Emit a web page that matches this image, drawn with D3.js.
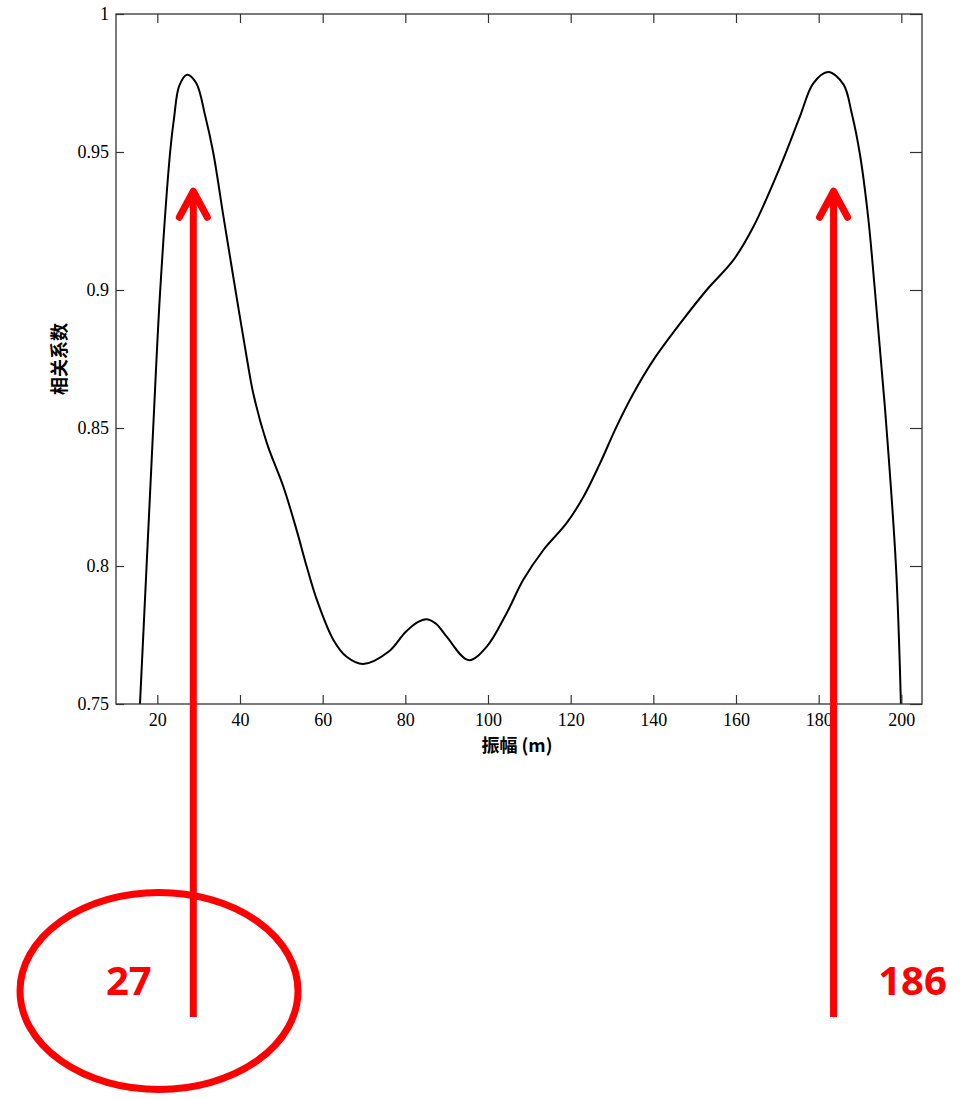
<!DOCTYPE html>
<html>
<head>
<meta charset="utf-8">
<script src="https://cdn.jsdelivr.net/npm/d3@7"></script>
<style>
  body { margin: 0; background: #fff; }
  svg { display: block; }
</style>
</head>
<body>
<svg id="chart" width="962" height="1099"></svg>
<script>
// amplitude (m)
const amplitude = [15.8, 17.4, 19.0, 20.7, 23.1, 24.1, 25.3, 27.2, 29.4, 31.6, 33.5, 36.0, 38.9, 41.8,
  43.2, 46.5, 50.5, 53.7, 56.1, 58.6, 62.6, 65.8, 69.8, 76.0, 80.0, 83.0, 85.2, 87.5, 90.0, 95.3, 99.7,
  104.5, 108.5, 113.4, 119.0, 123.1, 127.1, 131.1, 135.2, 140.0, 146.5, 152.9, 159.4, 164.2,
  170.7, 175.5, 178.7, 182.3, 186.0, 188.0, 190.0, 192.0, 193.6, 196.0, 198.7, 199.9]
// correlation coefficient
const correlation = [0.75, 0.80, 0.85, 0.90, 0.95, 0.963, 0.974, 0.978, 0.975, 0.963, 0.95, 0.9266, 0.90, 0.874,
  0.8626, 0.8445, 0.8287, 0.813, 0.80, 0.7877, 0.7732, 0.7671, 0.7645, 0.7690, 0.7760, 0.7797, 0.7807, 0.7790, 0.7744, 0.7659, 0.7708,
  0.7829, 0.7949, 0.8058, 0.8155, 0.8251, 0.8372, 0.8505, 0.8626, 0.8746, 0.8879, 0.900, 0.9109, 0.9229,
  0.9447, 0.963, 0.9749, 0.979, 0.9745, 0.964, 0.949, 0.926, 0.90, 0.858, 0.80, 0.75]

const xTicks = [20, 40, 60, 80, 100, 120, 140, 160, 180, 200]
const yTicks = [0.75, 0.8, 0.85, 0.9, 0.95, 1]

// red annotations: where the arrows stand and what they say
const peakArrowX = [28.7, 183.6]
const peakLabels = ["27", "186"]
const peakLabelX = [13.1, 202.7]

const plotLeft = 116, plotRight = 922, plotTop = 14, plotBottom = 704

const x = d3.scaleLinear().domain([10, 205]).range([plotLeft, plotRight])
const y = d3.scaleLinear().domain([0.75, 1]).range([plotBottom, plotTop])

const svg = d3.select("#chart")

// curve
const points = amplitude.map((a, i) => [a, correlation[i]])
const line = d3.line()
  .x(d => x(d[0]))
  .y(d => y(d[1]))
  .curve(d3.curveCatmullRom.alpha(0.5))

svg.append("path")
  .datum(points)
  .attr("d", line)
  .attr("fill", "none")
  .attr("stroke", "#000")
  .attr("stroke-width", 2)

// axes, matlab box style with inward ticks on all four sides
const tickFont = "'Liberation Serif', 'Times New Roman', serif"

svg.append("g")
  .attr("transform", `translate(0,${plotBottom})`)
  .call(d3.axisBottom(x).tickValues(xTicks).tickSizeInner(-9).tickSizeOuter(0).tickPadding(9))
  .call(g => g.selectAll("text").attr("font-family", tickFont).attr("font-size", 18).attr("fill", "#000"))

svg.append("g")
  .attr("transform", `translate(0,${plotTop})`)
  .call(d3.axisTop(x).tickValues(xTicks).tickSizeInner(-9).tickSizeOuter(0).tickFormat(""))

svg.append("g")
  .attr("transform", `translate(${plotLeft},0)`)
  .call(d3.axisLeft(y).tickValues(yTicks).tickSizeInner(-8).tickSizeOuter(0).tickPadding(7)
    .tickFormat(d => String(+d.toFixed(2))))
  .call(g => g.selectAll("text").attr("font-family", tickFont).attr("font-size", 18).attr("fill", "#000"))

svg.append("g")
  .attr("transform", `translate(${plotRight},0)`)
  .call(d3.axisRight(y).tickValues(yTicks).tickSizeInner(-12).tickSizeOuter(0).tickFormat(""))

svg.selectAll(".domain").remove()
svg.selectAll(".tick line").attr("stroke", "#333").attr("stroke-width", 1.2)

svg.append("rect")
  .attr("x", plotLeft).attr("y", plotTop)
  .attr("width", plotRight - plotLeft).attr("height", plotBottom - plotTop)
  .attr("fill", "none")
  .attr("stroke", "#333")
  .attr("stroke-width", 1.3)

// axis titles
const cjkFont = "'Noto Sans CJK SC', sans-serif"

svg.append("text")
  .attr("x", (plotLeft + plotRight) / 2 - 2)
  .attr("y", 752)
  .attr("text-anchor", "middle")
  .attr("font-family", cjkFont)
  .attr("font-weight", "bold")
  .attr("font-size", 18)
  .text("振幅 (m)")

svg.append("text")
  .attr("transform", `translate(66,${(plotTop + plotBottom) / 2}) rotate(-90)`)
  .attr("text-anchor", "middle")
  .attr("font-family", cjkFont)
  .attr("font-weight", "bold")
  .attr("font-size", 18)
  .text("相关系数")

// red arrows and labels
const red = "#ff0000"
const tipY = y(0.9365)
const arrowBottom = 1017

peakArrowX.forEach((v, i) => {
  const ax = x(v)
  svg.append("line")
    .attr("x1", ax).attr("x2", ax)
    .attr("y1", arrowBottom).attr("y2", tipY + 4)
    .attr("stroke", red)
    .attr("stroke-width", 7)

  svg.append("polyline")
    .attr("points", [[ax - 14, tipY + 28], [ax, tipY + 2], [ax + 14, tipY + 28]].map(p => p.join(",")).join(" "))
    .attr("fill", "none")
    .attr("stroke", red)
    .attr("stroke-width", 7)
    .attr("stroke-linecap", "round")
    .attr("stroke-linejoin", "round")

  svg.append("text")
    .attr("x", x(peakLabelX[i]))
    .attr("y", 995)
    .attr("text-anchor", "middle")
    .attr("font-family", "'Noto Sans', 'Open Sans', sans-serif")
    .attr("font-weight", "bold")
    .attr("font-size", 40)
    .attr("fill", red)
    .text(peakLabels[i])
})

// circle round the first label
svg.append("ellipse")
  .attr("cx", 159)
  .attr("cy", 991)
  .attr("rx", 139)
  .attr("ry", 98.5)
  .attr("fill", "none")
  .attr("stroke", red)
  .attr("stroke-width", 7)
</script>
</body>
</html>
